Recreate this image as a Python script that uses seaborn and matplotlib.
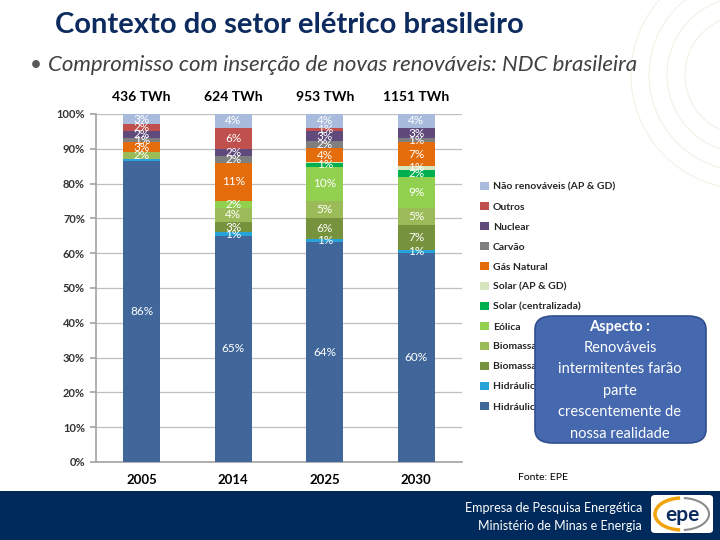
import numpy as np
import pandas as pd
import matplotlib
matplotlib.use('Agg')
import matplotlib.pyplot as plt
from matplotlib.patches import Patch, FancyBboxPatch, Rectangle, Ellipse, Arc
import seaborn as sns

# Data (percent share of generation)
years = ['2005', '2014', '2025', '2030']
totals_twh = ['436 TWh', '624 TWh', '953 TWh', '1151 TWh']

series_names = [
    'Hidráulica (centralizada)', 'Hidráulica (AP & GD)',
    'Biomassa (centralizada)', 'Biomassa (AP & GD)',
    'Eólica', 'Solar (centralizada)', 'Solar (AP & GD)',
    'Gás Natural', 'Carvão', 'Nuclear', 'Outros', 'Não renováveis (AP & GD)',
]
hidraulica_c = [86, 65, 64, 60]
hidraulica_ap = [0.5, 1, 1, 1]
biomassa_c = [0, 3, 6, 7]
biomassa_ap = [2, 4, 5, 5]
eolica = [0, 2, 10, 9]
solar_c = [0, 0, 1, 2]
solar_ap = [0, 0, 0.3, 1]
gas_natural = [3, 11, 4, 7]
carvao = [1, 2, 2, 1]
nuclear = [2, 2, 3, 3]
outros = [2, 6, 1, 0]
nao_renovaveis = [3, 4, 4, 4]

colors = ['#41679A', '#27A3DA', '#76923C', '#9BBB59', '#92D050', '#00B050',
          '#D7E4BD', '#E46C0A', '#7F7F7F', '#604A7B', '#C0504D', '#A9BBDC']

df = pd.DataFrame(
    [hidraulica_c, hidraulica_ap, biomassa_c, biomassa_ap, eolica, solar_c,
     solar_ap, gas_natural, carvao, nuclear, outros, nao_renovaveis],
    index=series_names, columns=years)
shares = df / df.sum(axis=0)
cum = shares.cumsum(axis=0)

sns.set_theme(style='white')
plt.rcParams['font.family'] = ['Lato', 'DejaVu Sans']

fig = plt.figure(figsize=(7.2, 5.4), dpi=100)
fig.patch.set_facecolor('white')

# faint decorative arcs top-right
for r in [60, 78, 96, 114]:
    fig.add_artist(Ellipse((745 / 720, 1 - 75 / 540), 2 * r / 720, 2 * r / 540,
                           transform=fig.transFigure, fill=False,
                           edgecolor='#F5F0E6', lw=0.8))

ax = fig.add_axes([96 / 720, 1 - 462 / 540, 366 / 720, 348 / 540])

# stacked bars: draw cumulative totals from the top series down
for i in range(len(series_names) - 1, -1, -1):
    sns.barplot(x=years, y=cum.iloc[i].values, color=colors[i], width=0.4,
                saturation=1, ax=ax, linewidth=0, zorder=3)

# segment labels
for j, yr in enumerate(years):
    for i, name in enumerate(series_names):
        v = df.loc[name, yr]
        if v >= 1:
            mid = cum.iloc[i, j] - shares.iloc[i, j] / 2
            ax.text(j, mid, f'{v:.0f}%', ha='center', va='center',
                    color='white', fontsize=8.5, zorder=5)
    ax.text(j, 1.05, totals_twh[j], ha='center', va='center', fontsize=10,
            fontweight='bold', color='black', clip_on=False)

ax.set_xlim(-0.5, 3.5)
ax.set_ylim(0, 1)
ax.set_yticks(np.arange(0, 1.01, 0.1))
ax.set_yticklabels([f'{int(round(t * 100))}%' for t in np.arange(0, 1.01, 0.1)],
                   fontsize=8, color='#333333', fontweight='bold')
ax.set_xticks(range(4))
ax.set_xticklabels(years, fontsize=9.5, fontweight='bold', color='black')
ax.set_xticks(np.arange(-0.5, 4, 1), minor=True)
ax.tick_params(axis='x', which='major', length=0, pad=9)
ax.tick_params(axis='x', which='minor', length=4, color='#A6A6A6', direction='out')
ax.tick_params(axis='y', length=4, color='#A6A6A6', direction='out', left=True, pad=4)
ax.yaxis.grid(True, color='#BFBFBF', lw=0.9, zorder=0)
ax.set_axisbelow(True)
for s in ['top', 'right']:
    ax.spines[s].set_visible(False)
for s in ['left', 'bottom']:
    ax.spines[s].set_color('#A6A6A6')
ax.set_xlabel('')
ax.set_ylabel('')

# legend (top series first)
handles = [Patch(facecolor=colors[i], edgecolor='none', label=series_names[i])
           for i in range(len(series_names) - 1, -1, -1)]
fig.legend(handles=handles, loc='upper left', bbox_to_anchor=(476 / 720, 1 - 178 / 540),
           frameon=False, prop={'size': 7.5, 'weight': 'bold'}, labelspacing=1.0,
           handlelength=0.8, handleheight=0.8, handletextpad=0.4, borderaxespad=0)

# title and bullet
fig.text(55 / 720, 1 - 25 / 540, 'Contexto do setor elétrico brasileiro',
         fontsize=21, fontweight='bold', color='#0D2B5E', va='center', ha='left')
fig.text(30 / 720, 1 - 65 / 540, '•', fontsize=15, color='#595959',
         va='center', ha='left')
fig.text(48 / 720, 1 - 65 / 540,
         'Compromisso com inserção de novas renováveis: NDC brasileira',
         fontsize=16, style='italic', color='#404040',
         va='center', ha='left')

# callout box
fig.add_artist(FancyBboxPatch((535 / 720, 1 - 443 / 540), 171 / 720, 127 / 540,
                              boxstyle='round,pad=0,rounding_size=0.025',
                              transform=fig.transFigure, facecolor='#4568AE',
                              edgecolor='#2F4F8F', lw=1.2, zorder=10))
callout_lines = ['Aspecto :', 'Renováveis', 'intermitentes farão', 'parte',
                 'crescentemente de', 'nossa realidade']
callout_y = [327, 348, 369, 391, 412, 434]
for k, (txt, yy) in enumerate(zip(callout_lines, callout_y)):
    fig.text(620 / 720, 1 - yy / 540, txt, ha='center', va='center',
             color='white', fontsize=10.5, zorder=11,
             fontweight='bold' if k == 0 else 'normal')

fig.text(518 / 720, 1 - 478 / 540, 'Fonte: EPE', fontsize=7.5, color='black',
         ha='left', va='center')

# bottom band
fig.add_artist(Rectangle((0, 0), 1, 49 / 540, transform=fig.transFigure,
                         facecolor='#002A5C', edgecolor='none', zorder=1))
fig.text(642 / 720, 1 - 508 / 540, 'Empresa de Pesquisa Energética', fontsize=9,
         color='white', ha='right', va='center', zorder=2)
fig.text(642 / 720, 1 - 526 / 540, 'Ministério de Minas e Energia', fontsize=9,
         color='white', ha='right', va='center', zorder=2)

# logo
fig.add_artist(FancyBboxPatch((651 / 720, 1 - 533 / 540), 62 / 720, 38 / 540,
                              boxstyle='round,pad=0,rounding_size=0.006',
                              transform=fig.transFigure, facecolor='white',
                              edgecolor='none', zorder=2))
fig.add_artist(Arc((682 / 720, 1 - 514 / 540), 54 / 720, 32 / 540, theta1=95, theta2=265,
                   transform=fig.transFigure, color='#F0A30A', lw=2.5, zorder=3))
fig.add_artist(Arc((682 / 720, 1 - 514 / 540), 54 / 720, 32 / 540, theta1=-85, theta2=85,
                   transform=fig.transFigure, color='#8C8C8C', lw=1.5, zorder=3))
fig.text(682 / 720, 1 - 515 / 540, 'epe', fontsize=15, fontweight='bold',
         color='#0D2B5E', ha='center', va='center', zorder=4)

fig.savefig('out.png', dpi=100)
